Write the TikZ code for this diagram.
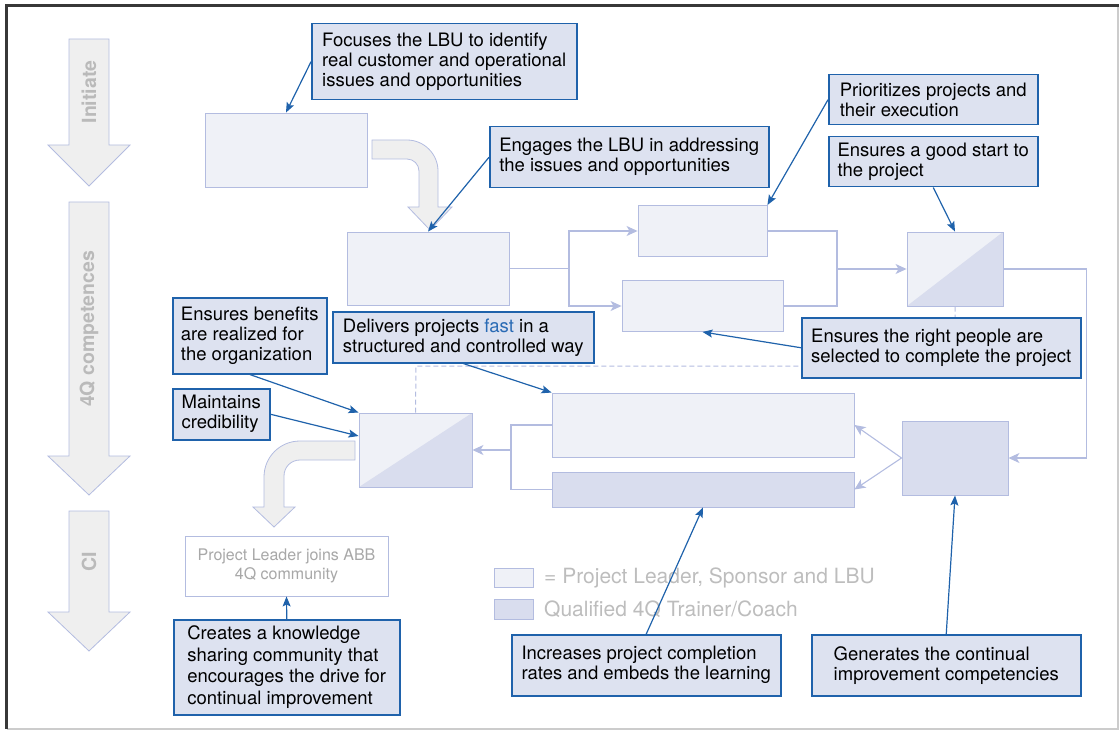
\documentclass[tikz,border=0pt]{standalone}
\usepackage{fontspec}
\setmainfont{TeX Gyre Heros}
\usepackage{xcolor}
\usetikzlibrary{arrows.meta}
\definecolor{boxline}{HTML}{B3BCE0}
\definecolor{boxlight}{HTML}{EFF1F7}
\definecolor{boxdark}{HTML}{D9DDEE}
\definecolor{notefill}{HTML}{DDE2F0}
\definecolor{noteline}{HTML}{1F62AB}
\definecolor{stagefill}{HTML}{EFEFEF}
\definecolor{stagetext}{HTML}{BABABA}
\definecolor{legendtext}{HTML}{BDBDBD}
\definecolor{fastblue}{HTML}{2A6BB5}

\begin{document}
\begin{tikzpicture}[x=1pt, y=-1pt,
  sz/.style 2 args={minimum width=#1pt, minimum height=#2pt},
  box/.style={draw=boxline, fill=boxlight, line width=0.9pt, inner sep=0pt},
  coach/.style={box, fill=boxdark},
  splitbox/.style={box, path picture={\fill[boxdark] (path picture bounding box.south west)
      -- (path picture bounding box.south east) -- (path picture bounding box.north east) -- cycle;}},
  note/.style={draw=noteline, fill=notefill, line width=1.5pt, align=left, anchor=north west,
      inner sep=0pt, font=\fontsize{18.5}{20}\selectfont},
  link/.style={draw=boxline, line width=1.1pt},
  flow/.style={link, -{Stealth[length=11pt, width=10pt, inset=3pt]}},
  feedback/.style={draw=boxline, line width=1pt, dash pattern=on 5pt off 3pt},
  pointer/.style={draw=noteline, line width=1.2pt, -{Stealth[length=10pt, width=8pt, inset=2pt]}},
  stage/.style={draw=boxline, fill=stagefill, line width=0.8pt},
  phase/.style={text=stagetext, rotate=90, font=\bfseries\fontsize{19.5}{19.5}\selectfont},
  legend/.style={text=legendtext, anchor=west, inner sep=0pt, font=\fontsize{21}{21}\selectfont}]
\useasboundingbox (0,0) rectangle (1119,730);
\draw[line width=1.5pt, black!20] (1118.2,5.5) -- (1118.2,729) -- (6.5,729);
\draw[line width=2.5pt, black!78] (1119,5.5) -- (6.5,5.5) -- (6.5,729);

\foreach \ytop/\yneck/\ytip/\lbl [count=\i] in {39/145/186/Initiate, 202/456/495/4Q competences, 511/612/651/CI} {
  \draw[stage] (69,\ytop) -- (109,\ytop) -- (109,\yneck) -- (130,\yneck) -- (89,\ytip) -- (48,\yneck) -- (69,\yneck) -- cycle;
  \node[phase] (phase\i) at (89,{(\ytop+\yneck)/2}) {\lbl};
}

\draw[stage] (372,140) -- (407,140) .. controls (424,140) and (438,154) .. (438,171) -- (438,207) -- (452,207)
  -- (430,230) -- (408,207) -- (419,207) -- (419,171) .. controls (419,164.4) and (413.6,159) .. (407,159) -- (372,159) -- cycle;
\draw[stage] (355,441) -- (300,441) .. controls (280,441) and (264,457) .. (264,477) -- (264,507) -- (253,507)
  -- (274,527) -- (295,507) -- (284,507) -- (284,476) .. controls (284,467) and (291,460) .. (300,460) -- (355,460) -- cycle;

\node[box, sz={162}{74}] (A) at (286,150) {};
\node[box, sz={162}{73}] (B) at (428,268.5) {};
\node[box, sz={129}{51}] (C1) at (702.5,231) {};
\node[box, sz={161}{51}] (C2) at (702.5,306) {};
\node[splitbox, sz={96}{74}] (D) at (955,269) {};
\node[coach, sz={106}{74}] (E) at (955,458) {};
\node[box, sz={302}{64}] (F1) at (703,425) {};
\node[coach, sz={302}{35}] (F2) at (703,489.5) {};
\node[splitbox, sz={113}{74}] (G) at (415.5,450) {};
\node[box, fill=white, sz={203}{60}, align=center, text=black!34, font=\fontsize{16}{19}\selectfont]
  (H) at (286.5,566) {Project Leader joins ABB\\4Q community};

\coordinate (split1) at (569,268.5);
\coordinate (join1) at (837,269);
\coordinate (join2) at (511,450);
\coordinate (dash1) at (416,366);
\draw[link] (B.east) -- (split1);
\draw[flow] (split1) |- (C1.west);
\draw[flow] (split1) |- (C2.west);
\draw[link] (C1.east) -| (join1) |- (C2.east);
\draw[flow] (join1) -- (D.west);
\draw[flow] (D.east) -- ++(83,0) |- (E.east);
\draw[flow] (E.west) -- (F1.east);
\draw[flow] (E.west) -- (F2.east);
\draw[link] (F1.west) -| (join2) |- (F2.west);
\draw[flow] (join2) -- (G.east);
\draw[feedback] (G.north) -- (dash1) -| (D.south);

\node[coach, sz={39}{20}] (key2) at (513.5,609) {};
\node[box, sz={39}{19}] (key1) at (513.5,577.5) {};
\node[legend] (key1text) at (544,578) {= Project Leader, Sponsor and LBU};
\node[legend] (key2text) at (544,609) {Qualified 4Q Trainer/Coach};

\node[note, sz={265}{76}] (focus) at (311,23) {Focuses the LBU to identify\\real customer and operational\\issues and opportunities};
\node[note, sz={279}{61}] (engage) at (489,126) {Engages the LBU in addressing\\the issues and opportunities};
\node[note, sz={209}{50}] (prio) at (828,74) {Prioritizes projects and\\their execution};
\node[note, sz={209}{50}] (start) at (828,136) {Ensures a good start to\\the project};
\node[note, sz={279}{60}] (right) at (801,317) {Ensures the right people are\\selected to complete the project};
\node[note, sz={154}{76}] (benefits) at (172,297) {Ensures benefits\\are realized for\\the organization};
\node[note, sz={97}{51}] (credib) at (172,388) {Maintains\\credibility};
\node[note, sz={261}{51}] (deliver) at (332,311) {Delivers projects {\color{fastblue}fast} in a\\structured and controlled way};
\node[note, sz={226}{95}, font=\fontsize{18.5}{21.5}\selectfont] (creates) at (173,619)
  {Creates a knowledge\\sharing community that\\encourages the drive for\\continual improvement};
\node[note, sz={269}{61}] (increases) at (511,634) {Increases project completion\\rates and embeds the learning};
\node[note, sz={269}{61}] (generates) at (811,634) {Generates the continual\\improvement competencies};

\draw[pointer] (focus.west) -- (A.north);
\draw[pointer] (engage.west) -- (B.north);
\draw[pointer] (prio.west) -- (C1.north east);
\draw[pointer] (start.south) -- (D.north);
\draw[pointer] (right.west) -- (C2.south);
\draw[pointer] (benefits.south) -- (G.north west);
\draw[pointer] (credib.east) -- ([yshift=14pt]G.west);
\draw[pointer] (deliver.south) -- (F1.north west);
\draw[pointer] (creates.north) -- (H.south);
\draw[pointer] (increases.north) -- (F2.south);
\draw[pointer] (generates.north) -- (E.south);
\end{tikzpicture}
\end{document}
